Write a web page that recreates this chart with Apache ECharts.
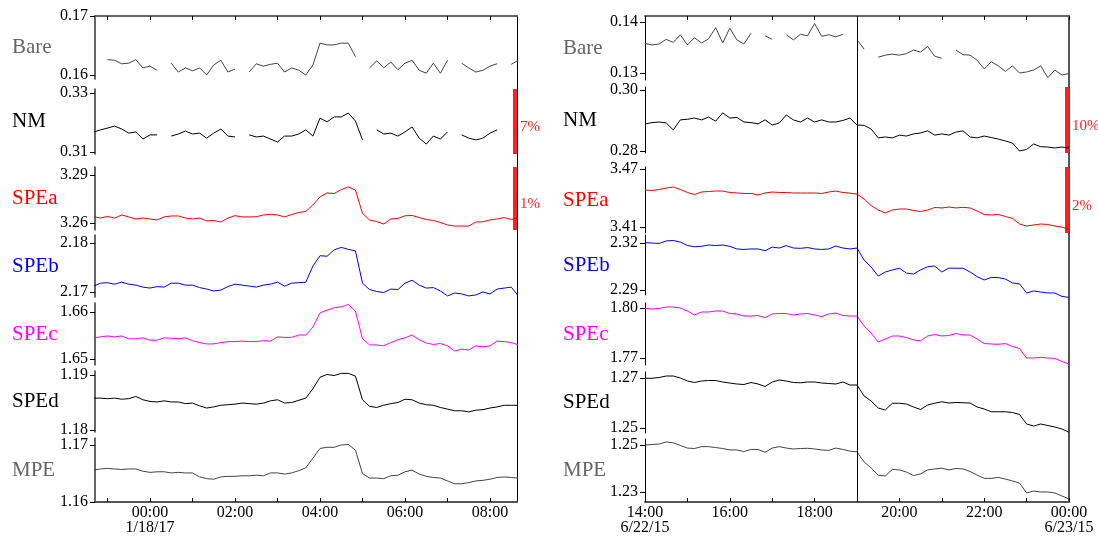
<!DOCTYPE html>
<html><head><meta charset="utf-8">
<script src="https://cdn.jsdelivr.net/npm/echarts@6/dist/echarts.min.js"></script>
<style>html,body{margin:0;padding:0;background:#fff}#c{width:1098px;height:537px}</style>
</head><body><div id="c"></div><script>
// ---------------- DATA ----------------
const rowNames = ['Bare', 'NM', 'SPEa', 'SPEb', 'SPEc', 'SPEd', 'MPE'];

// Left panel: 10-minute samples starting 22:40 on 1/17/17 (hours relative to 00:00 1/18/17)
const leftStartHour = -80 / 60;
const leftBare = [0.1628,null,0.1626,0.1625,0.1619,0.1620,0.1626,0.1612,0.1615,0.1608,
  null,0.1620,0.1605,0.1612,0.1607,0.1612,0.1600,0.1617,0.1625,0.1605,
  0.1610,null,0.1605,0.1619,0.1615,0.1618,0.1620,0.1605,0.1612,0.1608,
  0.1600,0.1617,0.1654,0.1651,0.1651,0.1654,0.1654,0.1631,null,0.1612,
  0.1624,0.1612,0.1622,0.1609,0.1620,0.1625,0.1608,0.1603,0.1620,0.1603,
  0.1625,null,0.1620,0.1612,0.1605,0.1608,0.1615,0.1619,null,0.1618,0.1625];
const leftNM = [0.3167,0.3175,0.3181,0.3188,0.3178,0.3164,0.3168,0.3144,0.3158,0.3158,
  null,0.3154,0.3161,0.3171,0.3161,0.3164,0.3147,0.3164,0.3178,0.3154,
  0.3151,null,0.3158,0.3151,0.3154,0.3144,0.3134,0.3154,0.3154,0.3161,
  0.3175,0.3154,0.3215,0.3202,0.3219,0.3219,0.3232,0.3205,0.3141,null,
  0.3175,0.3161,0.3164,0.3154,0.3168,0.3185,0.3147,0.3127,0.3154,0.3144,
  0.3168,null,0.3158,0.3147,0.3141,0.3147,0.3164,0.3175,null,null,null];
const leftSPEa = [3.2640,3.2631,3.2641,3.2631,3.2650,3.2638,3.2625,3.2631,3.2625,3.2619,
  3.2638,3.2644,3.2644,3.2631,3.2625,3.2631,3.2613,3.2616,3.2606,3.2631,
  3.2646,3.2638,3.2638,3.2639,3.2650,3.2654,3.2650,3.2638,3.2653,3.2666,
  3.2672,3.2713,3.2763,3.2788,3.2784,3.2809,3.2825,3.2806,3.2660,3.2619,
  3.2609,3.2594,3.2625,3.2629,3.2645,3.2647,3.2634,3.2622,3.2616,3.2603,
  3.2588,3.2581,3.2581,3.2581,3.2606,3.2608,3.2619,3.2625,3.2634,3.2622,3.2631];
const leftSPEb = [2.1712,2.1718,2.1719,2.1716,2.1720,2.1716,2.1714,2.1710,2.1708,2.1711,
  2.1710,2.1718,2.1718,2.1714,2.1714,2.1709,2.1706,2.1702,2.1704,2.1711,
  2.1716,2.1714,2.1712,2.1710,2.1714,2.1716,2.1720,2.1712,2.1718,2.1719,
  2.1720,2.1753,2.1774,2.1773,2.1786,2.1791,2.1787,2.1784,2.1718,2.1705,
  2.1701,2.1699,2.1706,2.1705,2.1718,2.1724,2.1714,2.1708,2.1709,2.1702,
  2.1692,2.1698,2.1696,2.1692,2.1694,2.1700,2.1696,2.1706,2.1708,2.1710,2.1692];
const leftSPEc = [1.6545,1.6547,1.6549,1.6547,1.6549,1.6543,1.6543,1.6545,1.6540,1.6540,
  1.6545,1.6544,1.6543,1.6545,1.6539,1.6535,1.6532,1.6532,1.6535,1.6537,
  1.6537,1.6538,1.6537,1.6537,1.6539,1.6538,1.6547,1.6546,1.6546,1.6551,
  1.6551,1.6568,1.6598,1.6604,1.6609,1.6611,1.6616,1.6602,1.6543,1.6530,
  1.6530,1.6528,1.6535,1.6541,1.6545,1.6551,1.6541,1.6534,1.6531,1.6533,
  1.6528,1.6517,1.6521,1.6519,1.6528,1.6526,1.6528,1.6538,1.6537,1.6535,1.6530];
const leftSPEd = [1.1858,1.1858,1.1857,1.1858,1.1856,1.1857,1.1861,1.1855,1.1852,1.1851,
  1.1853,1.1851,1.1851,1.1848,1.1849,1.1844,1.1840,1.1842,1.1845,1.1846,
  1.1847,1.1849,1.1848,1.1847,1.1849,1.1853,1.1855,1.1849,1.1850,1.1854,
  1.1858,1.1875,1.1896,1.1901,1.1899,1.1903,1.1903,1.1898,1.1855,1.1843,
  1.1841,1.1845,1.1848,1.1850,1.1856,1.1855,1.1849,1.1846,1.1845,1.1841,
  1.1838,1.1835,1.1835,1.1833,1.1836,1.1837,1.1840,1.1842,1.1845,1.1845,1.1845];
const leftMPE = [1.1656,1.1658,1.1659,1.1658,1.1657,1.1658,1.1658,1.1654,1.1652,1.1653,
  1.1653,1.1651,1.1652,1.1651,1.1651,1.1644,1.1641,1.1640,1.1644,1.1645,
  1.1645,1.1646,1.1646,1.1647,1.1646,1.1651,1.1651,1.1649,1.1651,1.1655,
  1.1660,1.1677,1.1694,1.1696,1.1696,1.1700,1.1701,1.1691,1.1650,1.1642,
  1.1642,1.1641,1.1646,1.1647,1.1653,1.1656,1.1649,1.1645,1.1643,1.1642,
  1.1637,1.1632,1.1632,1.1634,1.1637,1.1638,1.1640,1.1643,1.1644,1.1643,1.1642];

// Right panel: 10-minute samples starting 14:00 on 6/22/15
const rightStartHour = 14;
const rightBare = [0.1358,0.1355,0.1357,0.1366,0.1360,0.1375,0.1355,0.1369,0.1359,0.1367,
  0.1389,0.1359,0.1388,0.1365,0.1357,0.1378,null,0.1373,0.1366,null,
  0.1375,0.1365,0.1376,0.1373,0.1397,0.1372,0.1375,0.1371,0.1376,null,
  0.1365,0.1347,null,0.1331,0.1335,0.1337,0.1335,0.1338,0.1345,0.1341,
  0.1352,0.1333,0.1329,null,0.1345,0.1336,0.1335,0.1325,0.1308,0.1322,
  0.1314,0.1303,0.1314,0.1300,0.1302,0.1306,0.1314,0.1291,0.1306,0.1296,0.1299];
const rightNM = [0.2889,0.2893,0.2895,0.2892,0.2869,0.2902,0.2904,0.2908,0.2902,0.2911,
  0.2898,0.2925,0.2908,0.2910,0.2895,0.2893,0.2889,0.2902,0.2885,0.2892,
  0.2918,0.2902,0.2895,0.2908,0.2895,0.2902,0.2895,0.2895,0.2900,0.2908,
  0.2885,0.2884,0.2872,0.2843,0.2846,0.2843,0.2852,0.2849,0.2856,0.2859,
  0.2866,0.2852,0.2856,0.2852,0.2862,0.2866,0.2846,0.2843,0.2849,0.2844,
  0.2839,0.2833,0.2826,0.2800,0.2805,0.2823,0.2814,0.2813,0.2810,0.2813,0.2810];
const rightSPEa = [3.4483,3.4478,3.4488,3.4503,3.4514,3.4488,3.4457,3.4436,3.4462,3.4467,
  3.4472,3.4472,3.4457,3.4452,3.4447,3.4447,3.4431,3.4452,3.4462,3.4457,
  3.4457,3.4452,3.4452,3.4452,3.4452,3.4447,3.4462,3.4472,3.4457,3.4450,
  3.4441,3.4390,3.4322,3.4276,3.4245,3.4276,3.4286,3.4286,3.4271,3.4260,
  3.4276,3.4302,3.4297,3.4307,3.4297,3.4304,3.4297,3.4266,3.4229,3.4224,
  3.4229,3.4209,3.4190,3.4131,3.4110,3.4121,3.4131,3.4126,3.4110,3.4100,3.4076];
const rightSPEb = [2.3202,2.3200,2.3197,2.3213,2.3216,2.3206,2.3184,2.3176,2.3179,2.3187,
  2.3184,2.3187,2.3179,2.3162,2.3159,2.3162,2.3162,2.3151,2.3174,2.3168,
  2.3183,2.3168,2.3166,2.3171,2.3162,2.3159,2.3162,2.3181,2.3168,2.3162,
  2.3168,2.3091,2.3047,2.2989,2.3015,2.3028,2.3039,2.3008,2.3002,2.3028,
  2.3049,2.3053,2.3015,2.3040,2.3039,2.3039,2.3015,2.2985,2.2964,2.2980,
  2.2979,2.2970,2.2945,2.2939,2.2881,2.2894,2.2887,2.2881,2.2881,2.2859,2.2853];
const rightSPEc = [1.7998,1.7994,1.7997,1.8006,1.8006,1.8000,1.7982,1.7958,1.7976,1.7976,
  1.7982,1.7982,1.7967,1.7964,1.7952,1.7952,1.7955,1.7942,1.7964,1.7967,
  1.7967,1.7958,1.7964,1.7967,1.7958,1.7949,1.7964,1.7970,1.7955,1.7952,
  1.7952,1.7892,1.7850,1.7796,1.7814,1.7832,1.7832,1.7823,1.7808,1.7804,
  1.7832,1.7841,1.7832,1.7835,1.7847,1.7838,1.7838,1.7814,1.7787,1.7784,
  1.7782,1.7787,1.7769,1.7757,1.7700,1.7700,1.7704,1.7700,1.7698,1.7679,1.7664];
const rightSPEd = [1.2699,1.2699,1.2702,1.2708,1.2708,1.2700,1.2688,1.2682,1.2688,1.2690,
  1.2690,1.2684,1.2680,1.2676,1.2674,1.2682,1.2676,1.2666,1.2684,1.2692,
  1.2688,1.2682,1.2681,1.2684,1.2684,1.2680,1.2678,1.2676,1.2684,1.2672,
  1.2672,1.2628,1.2608,1.2580,1.2572,1.2599,1.2599,1.2596,1.2584,1.2574,
  1.2592,1.2599,1.2605,1.2600,1.2602,1.2601,1.2600,1.2584,1.2576,1.2565,
  1.2565,1.2565,1.2562,1.2554,1.2516,1.2508,1.2516,1.2510,1.2504,1.2496,1.2483];
const rightMPE = [1.2500,1.2502,1.2504,1.2513,1.2509,1.2498,1.2487,1.2485,1.2493,1.2493,
  1.2489,1.2485,1.2479,1.2479,1.2472,1.2481,1.2481,1.2469,1.2487,1.2493,
  1.2487,1.2483,1.2485,1.2486,1.2483,1.2479,1.2477,1.2487,1.2481,1.2474,
  1.2471,1.2428,1.2402,1.2372,1.2368,1.2396,1.2394,1.2385,1.2370,1.2377,
  1.2394,1.2398,1.2401,1.2394,1.2400,1.2398,1.2387,1.2372,1.2358,1.2358,
  1.2362,1.2355,1.2347,1.2338,1.2296,1.2304,1.2300,1.2300,1.2296,1.2283,1.2270];

// Axis extents (values) and tick values per row
const leftXRange = [-1.294, 8.635];
const rightXRange = [14, 24];
const leftYRange = [[0.15932,0.17],[0.30932,0.33136],[3.25562,3.295],[2.16898,2.18163],[1.64872,1.66191],[1.17964,1.19073],[1.16,1.17123]];
const leftYTicks = [[0.16,0.17],[0.31,0.33],[3.26,3.29],[2.17,2.18],[1.65,1.66],[1.18,1.19],[1.16,1.17]];
const rightYRange = [[0.12863,0.14118],[0.27934,0.30098],[3.4038,3.47207],[2.28681,2.32511],[1.7658,1.803],[1.248,1.2724],[1.22574,1.25255]];
const rightYTicks = [[0.13,0.14],[0.28,0.30],[3.41,3.47],[2.29,2.32],[1.77,1.80],[1.25,1.27],[1.23,1.25]];

const leftHourTicks = [-1,0,1,2,3,4,5,6,7,8];
const leftLabelHours = [0,2,4,6,8];
const leftLabelTexts = ['00:00\n1/18/17','02:00','04:00','06:00','08:00'];
const rightHourTicks = [14,15,16,17,18,19,20,21,22,23,24];
const rightLabelHours = [14,16,18,20,22,24];
const rightLabelTexts = ['14:00\n6/22/15','16:00','18:00','20:00','22:00','00:00\n6/23/15'];

const leftScaleBars = [{row:1, label:'7%'}, {row:2, label:'1%'}];
const rightScaleBars = [{row:1, label:'10%'}, {row:2, label:'2%'}];
const rightEventHour = 19;

// ---------------- STYLE / LAYOUT ----------------
const FONT = 'Liberation Serif';
const lineColors = ['#444444','#000000','#ff0000','#0000ff','#ff00ff','#000000','#444444'];
const nameColors = ['#666666','#000000','#ff0000','#0000ff','#ff00ff','#000000','#666666'];
const RED = '#ff2020';
const barWidthHours = 0.095;

const panels = [
  { left: 95, width: 422, tops: [16,89,167,235,303,371,438], bottoms: [79,154,230,297,365,432,502],
    start: leftStartHour, values: [leftBare,leftNM,leftSPEa,leftSPEb,leftSPEc,leftSPEd,leftMPE],
    yRange: leftYRange, yTicks: leftYTicks, xRange: leftXRange,
    hourTicks: leftHourTicks, labelHours: leftLabelHours, labelTexts: leftLabelTexts,
    bars: leftScaleBars, event: null, nameGap: 83, clip: true,
    leftAxis: {color:'#333', width:1.5}, rightAxis: {color:'#000', width:1} },
  { left: 645, width: 424, tops: [16,87,167,235,303,372,439], bottoms: [80,153,233,295,365,433,502],
    start: rightStartHour, values: [rightBare,rightNM,rightSPEa,rightSPEb,rightSPEc,rightSPEd,rightMPE],
    yRange: rightYRange, yTicks: rightYTicks, xRange: rightXRange,
    hourTicks: rightHourTicks, labelHours: rightLabelHours, labelTexts: rightLabelTexts,
    bars: rightScaleBars, event: rightEventHour, nameGap: 82, clip: false,
    leftAxis: {color:'#000', width:1}, rightAxis: {color:'#555', width:2} }
];

const grids = [], xAxes = [], yAxes = [], series = [];

panels.forEach(p => {
  p.values.forEach((vals, r) => {
    const gi = grids.length;
    grids.push({ left: p.left, width: p.width, top: p.tops[r], height: p.bottoms[r] - p.tops[r], outerBoundsMode: 'none' });
    const xi = xAxes.length;
    xAxes.push({ gridIndex: gi, type: 'value', min: p.xRange[0], max: p.xRange[1], show: false,
      axisLine: {onZero: false}, splitLine: {show: false} });
    const yi = yAxes.length;
    yAxes.push({ gridIndex: gi, type: 'value', position: 'left',
      min: p.yRange[r][0], max: p.yRange[r][1],
      axisLine: { show: true, onZero: false, lineStyle: { color: p.leftAxis.color, width: p.leftAxis.width } },
      axisTick: { show: true, inside: false, customValues: p.yTicks[r], length: 5, lineStyle: { color: '#000', width: 1 } },
      axisLabel: { show: true, customValues: p.yTicks[r], formatter: v => v.toFixed(2),
        fontFamily: FONT, fontSize: 16, color: '#000', margin: 7 },
      splitLine: { show: false },
      name: rowNames[r], nameLocation: 'middle', nameRotate: 0, nameGap: p.nameGap, nameMoveOverlap: false,
      nameTextStyle: { align: 'left', verticalAlign: 'middle', fontFamily: FONT, fontSize: 21, color: nameColors[r] }
    });
    const s = { type: 'line', xAxisIndex: xi, yAxisIndex: yi,
      data: vals.map((v, i) => [p.start + i / 6, v]),
      showSymbol: false, symbol: 'none', connectNulls: false, animation: false, silent: true, clip: p.clip,
      lineStyle: { color: lineColors[r], width: 1 } };
    const bar = p.bars.find(b => b.row === r);
    if (bar) {
      s.markArea = { silent: true, itemStyle: { color: RED, opacity: 1 },
        label: { show: true, position: 'right', formatter: bar.label, color: RED,
          fontFamily: FONT, fontSize: 15, distance: 3, offset: [0, 6] },
        data: [[{ xAxis: p.xRange[1] - barWidthHours }, { xAxis: p.xRange[1] }]] };
    }
    series.push(s);
  });

  // overlay frame grid
  const og = grids.length;
  grids.push({ left: p.left, width: p.width, top: 16, height: 486, outerBoundsMode: 'none' });
  xAxes.push({ gridIndex: og, type: 'value', position: 'top', min: p.xRange[0], max: p.xRange[1],
    axisLine: { show: true, onZero: false, lineStyle: { color: '#666', width: 2 } },
    axisTick: { show: true, inside: true, length: 4, customValues: p.hourTicks, lineStyle: { color: '#000' } },
    axisLabel: { show: false }, splitLine: { show: false } });
  const bx = xAxes.length;
  xAxes.push({ gridIndex: og, type: 'value', position: 'bottom', min: p.xRange[0], max: p.xRange[1],
    axisLine: { show: true, onZero: false, lineStyle: { color: '#555', width: 2 } },
    axisTick: { show: true, inside: true, length: 4, customValues: p.hourTicks, lineStyle: { color: '#000' } },
    axisLabel: { show: true, customValues: p.labelHours,
      formatter: v => { const k = p.labelHours.findIndex(h => Math.abs(h - v) < 1e-6); return k >= 0 ? p.labelTexts[k] : ''; },
      fontFamily: FONT, fontSize: 16, lineHeight: 15, color: '#000', margin: 3 },
    splitLine: { show: false } });
  const ry = yAxes.length;
  yAxes.push({ gridIndex: og, type: 'value', position: 'right', min: 0, max: 1,
    axisLine: { show: true, onZero: false, lineStyle: { color: p.rightAxis.color, width: p.rightAxis.width } },
    axisTick: { show: false }, axisLabel: { show: false }, splitLine: { show: false } });
  const os = { type: 'line', xAxisIndex: bx, yAxisIndex: ry, data: [], silent: true, animation: false, symbol: 'none' };
  if (p.event !== null) {
    os.markLine = { silent: true, symbol: ['none', 'none'], animation: false,
      lineStyle: { color: '#000', width: 1, type: 'solid' }, label: { show: false },
      data: [{ xAxis: p.event }] };
  }
  series.push(os);
});

const chart = echarts.init(document.getElementById('c'), null, { renderer: 'canvas' });
chart.setOption({
  animation: false,
  backgroundColor: '#fff',
  grid: grids, xAxis: xAxes, yAxis: yAxes, series: series,
  tooltip: { show: false }
});
</script></body></html>
